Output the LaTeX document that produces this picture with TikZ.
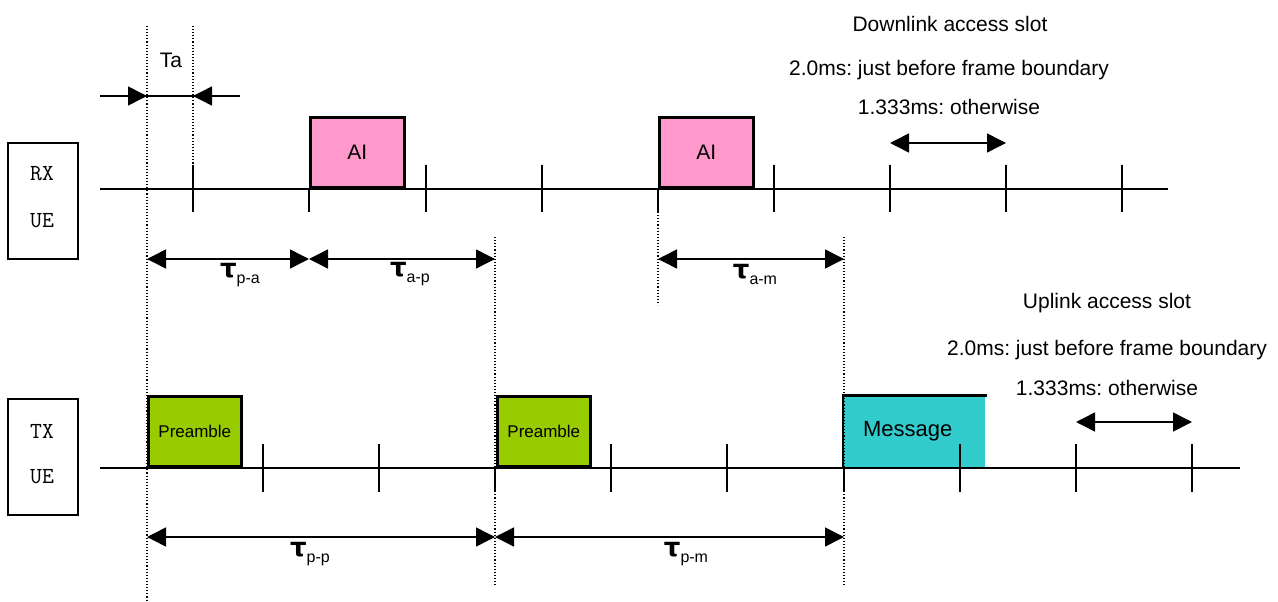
\documentclass[tikz,border=0pt]{standalone}
\usepackage{fontspec}
\setmainfont{Liberation Sans}
\newfontfamily\greekfnt{DejaVu Sans}
\usetikzlibrary{arrows.meta}
\definecolor{aipink}{RGB}{255,153,204}
\definecolor{prgreen}{RGB}{153,204,0}
\definecolor{msgcyan}{RGB}{51,204,204}
\frenchspacing
\tikzset{
  axisline/.style={line width=1.5pt},
  tickmark/.style={line width=1.8pt},
  guide/.style={dotted, line width=1.1pt},
  dimarrow/.style={line width=1.5pt, {Triangle[length=19pt,width=19pt]}-{Triangle[length=19pt,width=19pt]}},
  onearrow/.style={line width=1.5pt, -{Triangle[length=19pt,width=19pt]}},
  slotbox/.style={draw, line width=2.6pt, inner sep=0pt, anchor=south west, minimum height=70pt},
  uebox/.style={draw, line width=1.5pt, minimum width=70pt, minimum height=116pt, inner sep=0pt},
  uetext/.style={inner sep=0pt},
  plain/.style={font=\fontsize{21}{21}\selectfont, inner sep=0pt},
  taulab/.style={inner sep=0pt}
}
\newcommand{\taulbl}[1]{{\greekfnt\bfseries\fontsize{26}{26}\selectfont τ}\raisebox{-6pt}{\fontsize{16}{16}\selectfont #1}}
\newcommand{\uetxt}[1]{{\ttfamily\fontsize{23}{23}\selectfont #1}}
\begin{document}
\begin{tikzpicture}[x=1pt,y=-1pt]
\useasboundingbox (0,0) rectangle (1278,602);

% UE boxes
\node[uebox] (rxbox) at (43,201) {};
\node[uetext] (rx) at (42,174) {\uetxt{RX}};
\node[uetext] (rxue) at (42,221) {\uetxt{UE}};
\node[uebox] (txbox) at (43,457) {};
\node[uetext] (tx) at (42,431) {\uetxt{TX}};
\node[uetext] (txue) at (42,477) {\uetxt{UE}};

% axis coordinates
\coordinate (rxs) at (100,189);
\coordinate (rxe) at (1168,189);
\coordinate (txs) at (100,468);
\coordinate (txe) at (1240,468);

% slot boxes
\node[slotbox, fill=aipink, minimum width=94pt, font=\fontsize{21}{21}\selectfont] (ai1) at (309,189) {AI};
\node[slotbox, fill=aipink, minimum width=94pt, font=\fontsize{21}{21}\selectfont] (ai2) at (658,189) {AI};
\node[slotbox, fill=prgreen, minimum width=93pt, font=\fontsize{17}{17}\selectfont] (pr1) at (147,468) {Preamble};
\node[slotbox, fill=prgreen, minimum width=93pt, font=\fontsize{17}{17}\selectfont] (pr2) at (496,468) {Preamble};
\node[slotbox, draw=none, fill=msgcyan, minimum width=141pt, font=\fontsize{22}{22}\selectfont] (msg) at (843,468) {\hspace*{-14pt}Message};
\draw[line width=2.6pt] (msg.north east) -- (msg.north west) -- (msg.south west);

% axes
\draw[axisline] (rxs) -- (rxe);
\draw[axisline] (txs) -- (txe);

% RX ticks
\foreach \x in {193,426,542,774,890,1006,1122}
  \draw[tickmark] (\x,165) -- (\x,212);
\foreach \x in {309,658}
  \draw[tickmark] (\x,189) -- (\x,212);
% TX ticks
\foreach \x in {263,379,611,727,960,1076,1192}
  \draw[tickmark] (\x,444) -- (\x,492);
\foreach \x in {495,844}
  \draw[tickmark] (\x,468) -- (\x,492);

% guide lines
\coordinate (g1t) at (147,26);  \coordinate (g1b) at (147,600);
\coordinate (g2t) at (193,26);  \coordinate (g2b) at (193,165);
\coordinate (g3t) at (495,237); \coordinate (g3b) at (495,585);
\coordinate (g4t) at (658,212); \coordinate (g4b) at (658,305);
\coordinate (g5t) at (844,237); \coordinate (g5b) at (844,585);
\draw[guide] (g1t) -- (g1b);
\draw[guide] (g2t) -- (g2b);
\draw[guide] (g3t) -- (g3b);
\draw[guide] (g4t) -- (g4b);
\draw[guide] (g5t) -- (g5b);

% Ta
\coordinate (taL) at (100,96);
\coordinate (taR) at (240,96);
\coordinate (ta1) at (147,96);
\coordinate (ta2) at (193,96);
\draw[line width=1.5pt] (taL) -- (taR);
\draw[onearrow] (taL) -- (ta1);
\draw[onearrow] (taR) -- (ta2);
\node[plain] (talabel) at (171,60) {Ta};

% RX dimension arrows
\coordinate (d1) at (147,259);
\coordinate (d2) at (309,259);
\coordinate (d3) at (495,259);
\coordinate (d4) at (658,259);
\coordinate (d5) at (844,259);
\draw[dimarrow] (d1) -- (d2);
\draw[dimarrow] (d2) -- (d3);
\draw[dimarrow] (d4) -- (d5);
\node[taulab] (tpa) at (240,275) {\taulbl{p-a}};
\node[taulab] (tap) at (410,274) {\taulbl{a-p}};
\node[taulab] (tam) at (755,274) {\taulbl{a-m}};

% TX dimension arrows
\coordinate (e1) at (147,537);
\coordinate (e2) at (495,537);
\coordinate (e3) at (844,537);
\draw[dimarrow] (e1) -- (e2);
\draw[dimarrow] (e2) -- (e3);
\node[taulab] (tpp) at (310,554) {\taulbl{p-p}};
\node[taulab] (tpm) at (686,554) {\taulbl{p-m}};

% Downlink access slot
\node[plain] (dl1) at (950,24) {Downlink access slot};
\node[plain] (dl2) at (949,70) {2.0ms: just before frame boundary};
\node[plain] (dl3) at (949,107) {1.333ms: otherwise};
\coordinate (dla) at (890,143);
\coordinate (dlb) at (1006,143);
\draw[dimarrow] (dla) -- (dlb);

% Uplink access slot
\node[plain] (ul1) at (1107,303) {Uplink access slot};
\node[plain] (ul2) at (1107,350) {2.0ms: just before frame boundary};
\node[plain] (ul3) at (1107,388) {1.333ms: otherwise};
\coordinate (ula) at (1076,422);
\coordinate (ulb) at (1192,422);
\draw[dimarrow] (ula) -- (ulb);
\end{tikzpicture}
\end{document}
